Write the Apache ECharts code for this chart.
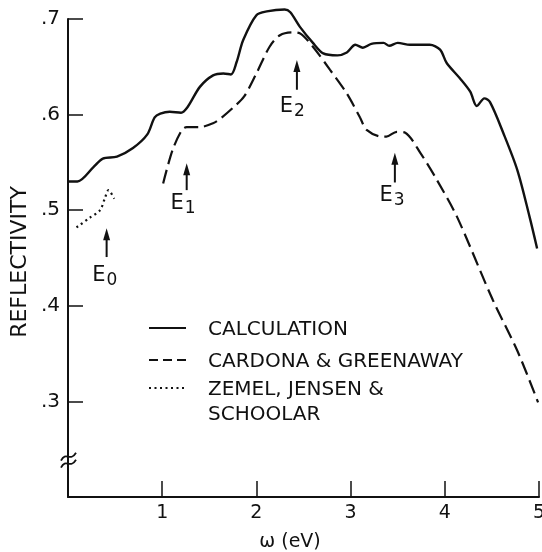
<!DOCTYPE html>
<html><head><meta charset="utf-8">
<script src="https://cdn.jsdelivr.net/npm/echarts/dist/echarts.min.js"></script>
<style>html,body{margin:0;padding:0;background:#fff}#c{width:542px;height:552px}</style>
</head><body><div id="c"></div>
<script>
// ---- data ----
const calcX = [0, 0.1, 0.27, 0.37, 0.52, 0.69, 0.84, 0.92, 0.98, 1.08, 1.20, 1.27, 1.40, 1.54, 1.65, 1.73, 1.79, 1.86, 2.0, 2.11, 2.30, 2.36, 2.46, 2.60, 2.71, 2.86, 2.96, 3.05, 3.13, 3.22, 3.35, 3.41, 3.50, 3.63, 3.84, 3.95, 4.02, 4.16, 4.27, 4.34, 4.42, 4.48, 4.62, 4.77, 4.90, 4.98];
const calcY = [0.530, 0.530, 0.545, 0.554, 0.556, 0.565, 0.579, 0.597, 0.601, 0.603, 0.602, 0.608, 0.629, 0.641, 0.643, 0.642, 0.655, 0.678, 0.704, 0.708, 0.710, 0.707, 0.692, 0.675, 0.664, 0.662, 0.665, 0.673, 0.670, 0.674, 0.675, 0.672, 0.675, 0.673, 0.673, 0.668, 0.654, 0.638, 0.624, 0.609, 0.617, 0.613, 0.581, 0.542, 0.493, 0.460];
const cardX = [1.01, 1.11, 1.21, 1.26, 1.40, 1.54, 1.62, 1.75, 1.87, 2.0, 2.14, 2.25, 2.38, 2.46, 2.60, 2.78, 2.96, 3.10, 3.17, 3.33, 3.38, 3.49, 3.58, 3.74, 3.92, 4.13, 4.51, 4.77, 4.99];
const cardY = [0.528, 0.563, 0.584, 0.587, 0.587, 0.591, 0.596, 0.607, 0.619, 0.643, 0.671, 0.683, 0.686, 0.685, 0.671, 0.647, 0.622, 0.597, 0.584, 0.577, 0.577, 0.582, 0.581, 0.560, 0.531, 0.493, 0.406, 0.353, 0.299];
const zemX = [0.09, 0.23, 0.34, 0.39, 0.43, 0.49];
const zemY = [0.482, 0.492, 0.500, 0.512, 0.521, 0.512];

const seriesNames = ['CALCULATION', 'CARDONA & GREENAWAY', 'ZEMEL, JENSEN &\nSCHOOLAR'];
const xTickLabels = ['', '1', '2', '3', '4', '5'];
const yTickLabels = ['', '.3', '.4', '.5', '.6', '.7'];
const xTitle = 'ω (eV)';
const yTitle = 'REFLECTIVITY';

// annotation arrows: x, tip y, base y, label x, label y, subscript
const annX = [0.41, 1.26, 2.43, 3.47];
const annTip = [0.481, 0.549, 0.657, 0.560];
const annBase = [0.451, 0.521, 0.626, 0.529];
const annLabX = [0.42, 1.25, 2.41, 3.47];
const annLabY = [0.432, 0.507, 0.608, 0.515];
const annSub = ['0', '1', '2', '3'];
const breakY = 0.238;

// ---- chart ----
const FONT = 'DejaVu Sans';
const INK = '#111';
const chart = echarts.init(document.getElementById('c'), null, {renderer: 'canvas'});
const zip = (xs, ys) => xs.map((x, i) => [x, ys[i]]);
const base = {type: 'line', showSymbol: false, smooth: 0.3, clip: false, silent: true};

chart.setOption({
  animation: false,
  backgroundColor: '#fff',
  grid: {left: 68, right: 3, top: 19, bottom: 55, containLabel: false, outerBoundsMode: 'none'},
  xAxis: {
    type: 'value', min: 0, max: 5, interval: 1,
    axisLine: {lineStyle: {color: INK, width: 2}},
    axisTick: {inside: true, length: 16, lineStyle: {color: INK, width: 1.5}},
    axisLabel: {color: INK, fontFamily: FONT, fontSize: 19, margin: 7,
      formatter: v => xTickLabels[Math.round(v)] || ''},
    splitLine: {show: false}
  },
  yAxis: {
    type: 'value', min: 0.2, max: 0.7, interval: 0.1,
    axisLine: {lineStyle: {color: INK, width: 2}},
    axisTick: {inside: true, length: 15, lineStyle: {color: INK, width: 1.5}},
    axisLabel: {color: INK, fontFamily: FONT, fontSize: 20, margin: 8,
      formatter: v => yTickLabels[Math.round((v - 0.2) * 10)] || ''},
    splitLine: {show: false}
  },
  series: [
    Object.assign({}, base, {name: seriesNames[0], data: zip(calcX, calcY),
      lineStyle: {color: INK, width: 2.4}}),
    Object.assign({}, base, {name: seriesNames[1], data: zip(cardX, cardY),
      lineStyle: {color: INK, width: 2.2, type: [14, 6]}}),
    Object.assign({}, base, {name: seriesNames[2], data: zip(zemX, zemY),
      lineStyle: {color: INK, width: 2.2, type: [2, 3.5]}})
  ]
});

const px = (x, y) => chart.convertToPixel({gridIndex: 0}, [x, y]);
const g = [];

// arrows + labels
annX.forEach((x, i) => {
  const t = px(x, annTip[i]), b = px(x, annBase[i]);
  g.push({type: 'line', shape: {x1: b[0], y1: b[1], x2: t[0], y2: t[1] + 8},
    style: {stroke: INK, lineWidth: 2}});
  g.push({type: 'polygon', shape: {points: [[t[0], t[1]], [t[0] - 3.5, t[1] + 12], [t[0] + 3.5, t[1] + 12]]},
    style: {fill: INK}});
  const l = px(annLabX[i], annLabY[i]);
  g.push({type: 'text', x: l[0] - 2, y: l[1], style: {text: 'E', font: '21px "' + FONT + '"',
    fill: INK, align: 'right', verticalAlign: 'middle'}});
  g.push({type: 'text', x: l[0] - 1, y: l[1] + 5, style: {text: annSub[i], font: '17px "' + FONT + '"',
    fill: INK, align: 'left', verticalAlign: 'middle'}});
});

// axis break mark
const bk = px(0, breakY);
[-4, 3].forEach(dy => {
  g.push({type: 'bezierCurve', shape: {x1: bk[0] - 7, y1: bk[1] + dy + 4, cpx1: bk[0] - 2, cpy1: bk[1] + dy - 6,
    cpx2: bk[0] + 2, cpy2: bk[1] + dy + 6, x2: bk[0] + 8, y2: bk[1] + dy - 4},
    style: {stroke: INK, lineWidth: 1.8, fill: null}});
});

// legend
const legTop = [328, 360, 388];
const legDash = [null, [9, 5], [2, 3.5]];
seriesNames.forEach((n, i) => {
  g.push({type: 'line', shape: {x1: 149, y1: legTop[i], x2: 186, y2: legTop[i]},
    style: {stroke: INK, lineWidth: i === 0 ? 2 : 1.8, lineDash: legDash[i]}});
  g.push({type: 'text', x: 208, y: legTop[i] - 11, style: {text: n, font: '20px "' + FONT + '"',
    fill: INK, align: 'left', verticalAlign: 'top', lineHeight: 25}});
});

// axis titles
g.push({type: 'text', x: 290, y: 542, style: {text: xTitle, font: '19px "' + FONT + '"',
  fill: INK, align: 'center', verticalAlign: 'middle'}});
g.push({type: 'text', x: 20, y: 262, rotation: Math.PI / 2, style: {text: yTitle,
  font: '22px "' + FONT + '"', fill: INK, align: 'center', verticalAlign: 'middle'}});

chart.setOption({graphic: {elements: g}});
</script>
</body></html>
